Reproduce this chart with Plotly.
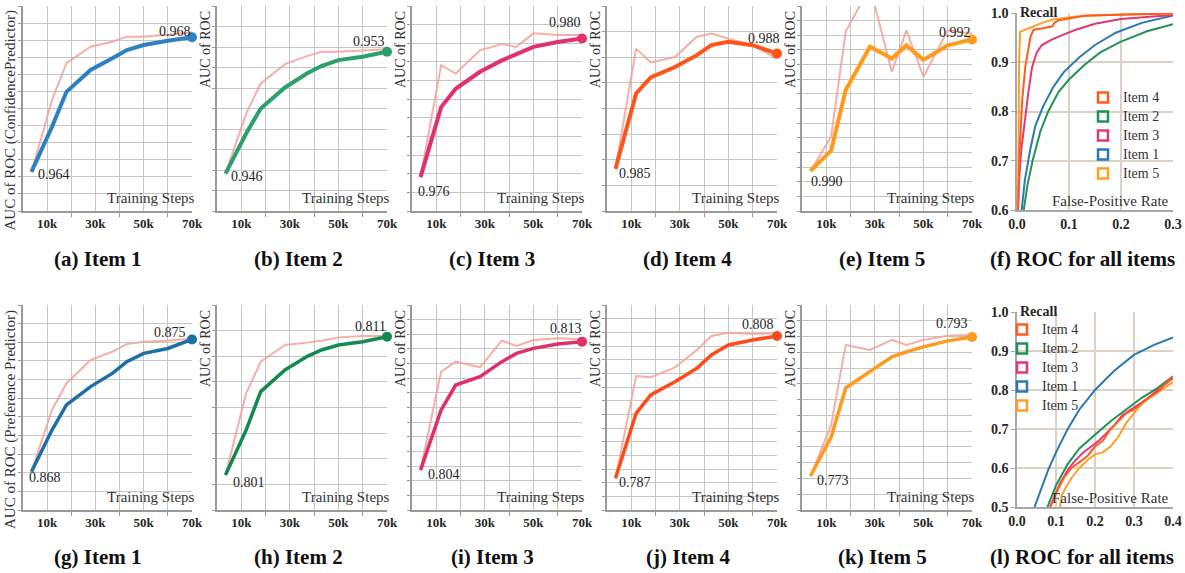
import plotly.graph_objects as go

W, H = 1185, 573
SERIF = "Liberation Serif"

# ---------------- data ----------------
STEPS = [3500, 12000, 18000, 28000, 37000, 43000, 50000, 60000, 70000]
STEP_TICKS = [10000, 30000, 50000, 70000]
STEP_TICK_LABELS = ["10k", "30k", "50k", "70k"]
STEP_MINOR_TICKS = [0, 20000, 40000, 60000]

# Confidence predictor AUC (top row)
conf_item1 = [0.9640, 0.96534, 0.96638, 0.96703, 0.96738, 0.96762, 0.96777, 0.96790, 0.9680]
conf_item1_ref = [0.9640, 0.96613, 0.96723, 0.96772, 0.96787, 0.96802, 0.96802, 0.96807, 0.96814]
conf_item2 = [0.9460, 0.94830, 0.94974, 0.95095, 0.95175, 0.95218, 0.95252, 0.95271, 0.9530]
conf_item2_ref = [0.9460, 0.94945, 0.95118, 0.95229, 0.95275, 0.9530, 0.9530, 0.95306, 0.95314]
conf_item3 = [0.9760, 0.97802, 0.97855, 0.97904, 0.97937, 0.97955, 0.97976, 0.97990, 0.9800]
conf_item3_ref = [0.9760, 0.97923, 0.97899, 0.97966, 0.97984, 0.97976, 0.98015, 0.98010, 0.98010]
conf_item4 = [0.9850, 0.98696, 0.98738, 0.98765, 0.98796, 0.98822, 0.98831, 0.98822, 0.9880]
conf_item4_ref = [0.9850, 0.98813, 0.98777, 0.98791, 0.98844, 0.98852, 0.98839, 0.98822, 0.98787]
conf_item5 = [0.9900, 0.99031, 0.99123, 0.99189, 0.99171, 0.99191, 0.99169, 0.99191, 0.9920]
conf_item5_ref = [0.9900, 0.99052, 0.99212, 0.99280, 0.99151, 0.99214, 0.99143, 0.99214, 0.99209]

# Preference predictor AUC (bottom row)
pref_item1 = [0.8680, 0.87020, 0.87153, 0.87250, 0.87320, 0.87382, 0.87426, 0.87452, 0.8750]
pref_item1_ref = [0.8680, 0.87126, 0.87267, 0.87391, 0.87435, 0.87475, 0.87488, 0.87493, 0.87505]
pref_item2 = [0.8010, 0.80425, 0.80703, 0.80859, 0.80956, 0.81004, 0.81040, 0.81064, 0.8110]
pref_item2_ref = [0.8010, 0.80690, 0.80919, 0.81040, 0.81057, 0.81071, 0.81095, 0.81105, 0.81105]
pref_item3 = [0.8040, 0.80821, 0.80996, 0.81055, 0.81160, 0.81218, 0.81253, 0.81284, 0.8130]
pref_item3_ref = [0.8040, 0.81090, 0.81160, 0.81120, 0.81307, 0.81270, 0.81312, 0.81324, 0.81317]
pref_item4 = [0.7870, 0.79659, 0.79930, 0.80126, 0.80323, 0.80520, 0.80667, 0.80741, 0.8080]
pref_item4_ref = [0.7870, 0.80210, 0.80190, 0.80338, 0.80593, 0.8080, 0.80849, 0.80830, 0.80839]
pref_item5 = [0.7730, 0.77861, 0.78567, 0.78797, 0.79014, 0.79086, 0.79158, 0.79244, 0.7930]
pref_item5_ref = [0.7730, 0.78034, 0.79186, 0.79114, 0.79258, 0.79186, 0.79258, 0.79316, 0.7933]

# ROC curves, confidence predictor (f)
roc_conf_item1_fpr = [0.009, 0.015, 0.025, 0.035, 0.05, 0.07, 0.09, 0.12, 0.15, 0.19, 0.24, 0.3]
roc_conf_item1_tpr = [0.60, 0.66, 0.72, 0.77, 0.81, 0.85, 0.88, 0.91, 0.935, 0.96, 0.98, 0.995]
roc_conf_item2_fpr = [0.013, 0.02, 0.03, 0.045, 0.06, 0.08, 0.1, 0.13, 0.16, 0.2, 0.25, 0.3]
roc_conf_item2_tpr = [0.60, 0.65, 0.70, 0.76, 0.80, 0.84, 0.865, 0.895, 0.92, 0.942, 0.963, 0.977]
roc_conf_item3_fpr = [0.002, 0.004, 0.008, 0.016, 0.022, 0.029, 0.038, 0.048, 0.065, 0.08, 0.113, 0.15, 0.2, 0.3]
roc_conf_item3_tpr = [0.60, 0.66, 0.72, 0.79, 0.84, 0.89, 0.92, 0.935, 0.945, 0.952, 0.966, 0.978, 0.988, 0.996]
roc_conf_item4_fpr = [0.002, 0.005, 0.01, 0.016, 0.026, 0.032, 0.05, 0.068, 0.072, 0.08, 0.132, 0.2, 0.3]
roc_conf_item4_tpr = [0.60, 0.72, 0.823, 0.891, 0.952, 0.966, 0.969, 0.973, 0.98, 0.985, 0.995, 0.997, 0.999]
roc_conf_item5_fpr = [0.002, 0.003, 0.004, 0.006, 0.02, 0.03, 0.048, 0.07, 0.113, 0.2, 0.3]
roc_conf_item5_tpr = [0.60, 0.80, 0.90, 0.962, 0.967, 0.972, 0.98, 0.987, 0.993, 0.997, 0.999]

# ROC curves, preference predictor (l)
roc_pref_item1_fpr = [0.045, 0.06, 0.08, 0.1, 0.13, 0.16, 0.2, 0.25, 0.3, 0.35, 0.4]
roc_pref_item1_tpr = [0.50, 0.54, 0.595, 0.64, 0.70, 0.75, 0.80, 0.85, 0.89, 0.915, 0.935]
roc_pref_item2_fpr = [0.078, 0.1, 0.13, 0.16, 0.2, 0.24, 0.28, 0.32, 0.36, 0.4]
roc_pref_item2_tpr = [0.50, 0.555, 0.61, 0.65, 0.685, 0.72, 0.75, 0.78, 0.805, 0.835]
roc_pref_item3_fpr = [0.085, 0.11, 0.13, 0.15, 0.17, 0.19, 0.21, 0.23, 0.25, 0.27, 0.3, 0.33, 0.36, 0.4]
roc_pref_item3_tpr = [0.50, 0.56, 0.595, 0.62, 0.64, 0.655, 0.67, 0.69, 0.71, 0.735, 0.755, 0.775, 0.80, 0.83]
roc_pref_item4_fpr = [0.085, 0.1, 0.12, 0.14, 0.16, 0.18, 0.2, 0.22, 0.24, 0.26, 0.28, 0.3, 0.33, 0.36, 0.4]
roc_pref_item4_tpr = [0.50, 0.535, 0.575, 0.60, 0.615, 0.63, 0.655, 0.67, 0.70, 0.72, 0.74, 0.75, 0.775, 0.795, 0.835]
roc_pref_item5_fpr = [0.11, 0.115, 0.125, 0.14, 0.16, 0.18, 0.2, 0.22, 0.24, 0.26, 0.28, 0.3, 0.32, 0.34, 0.37, 0.4]
roc_pref_item5_tpr = [0.50, 0.53, 0.55, 0.575, 0.60, 0.62, 0.635, 0.64, 0.655, 0.68, 0.715, 0.74, 0.765, 0.78, 0.80, 0.82]

FPR_TICKS_CONF = [0.0, 0.1, 0.2, 0.3]
TPR_TICKS_CONF = [0.6, 0.7, 0.8, 0.9, 1.0]
FPR_TICKS_PREF = [0.0, 0.1, 0.2, 0.3, 0.4]
TPR_TICKS_PREF = [0.5, 0.6, 0.7, 0.8, 0.9, 1.0]

CAPTIONS_TOP = ["(a) Item 1", "(b) Item 2", "(c) Item 3", "(d) Item 4", "(e) Item 5", "(f) ROC for all items"]
CAPTIONS_BOTTOM = ["(g) Item 1", "(h) Item 2", "(i) Item 3", "(j) Item 4", "(k) Item 5", "(l) ROC for all items"]
LEGEND_ORDER = ["Item 4", "Item 2", "Item 3", "Item 1", "Item 5"]

# ---------------- style / layout constants ----------------
REF_COLOR = "rgba(246,160,150,0.85)"
GRID = "#c6c6c6"
AXIS = "#9a9a9a"
ROC_GRID = "#dcd2c4"
TXT = "#262626"
ROC_COLORS = {"Item 1": "#2b78b4", "Item 2": "#1f9358", "Item 3": "#de3a78",
              "Item 4": "#ff5a1f", "Item 5": "#ff9f24"}

AUC_XPX = [(23, 192), (217, 387), (412, 582), (607, 777), (802, 972)]
ROW_YPX = [(6, 211), (305, 510)]
ROC_XPX = (1017, 1173)
ROC_YPX = [(13, 210), (312, 507)]
CAPTION_CX = [97, 298, 492, 688, 882, 1082]
CAPTION_Y = [259, 557]

panels = [
    [  # top row
        dict(main=conf_item1, ref=conf_item1_ref, color="#2e80c0", yr=(0.96284, 0.96893), n=12, s=(5, -3), e=(1, 6)),
        dict(main=conf_item2, ref=conf_item2_ref, color="#2aa06a", yr=(0.94385, 0.95563), n=10, s=(3, -3), e=(0, 10)),
        dict(main=conf_item3, ref=conf_item3_ref, color="#e2306c", yr=(0.97502, 0.98094), n=11, s=(-5, -14), e=(1, 16)),
        dict(main=conf_item4, ref=conf_item4_ref, color="#ff5419", yr=(0.98390, 0.98924), n=8, s=(1, -5), e=(5, 15)),
        dict(main=conf_item5, ref=conf_item5_ref, color="#ff9a1a", yr=(0.98939, 0.99251), n=14, s=(-2, -11), e=(1, 7)),
    ],
    [  # bottom row
        dict(main=pref_item1, ref=pref_item1_ref, color="#1e6fa6", yr=(0.86597, 0.87682), n=11, s=(-4, -6), e=(-4, 7)),
        dict(main=pref_item2, ref=pref_item2_ref, color="#138a50", yr=(0.79847, 0.81329), n=8, s=(5, -7), e=(1, 10)),
        dict(main=pref_item3, ref=pref_item3_ref, color="#e0306a", yr=(0.80120, 0.81557), n=14, s=(5, -4), e=(2, 13)),
        dict(main=pref_item4, ref=pref_item4_ref, color="#ff4a1a", yr=(0.78233, 0.81257), n=15, s=(1, -4), e=(-1, 11)),
        dict(main=pref_item5, ref=pref_item5_ref, color="#ff9a1f", yr=(0.76811, 0.79760), n=13, s=(4, -4), e=(-2, 13)),
    ],
]

roc_sets = [
    dict(order=["Item 2", "Item 1", "Item 3", "Item 5", "Item 4"],
         data={"Item 1": (roc_conf_item1_fpr, roc_conf_item1_tpr),
               "Item 2": (roc_conf_item2_fpr, roc_conf_item2_tpr),
               "Item 3": (roc_conf_item3_fpr, roc_conf_item3_tpr),
               "Item 4": (roc_conf_item4_fpr, roc_conf_item4_tpr),
               "Item 5": (roc_conf_item5_fpr, roc_conf_item5_tpr)},
         xt=FPR_TICKS_CONF, yt=TPR_TICKS_CONF,
         legend=dict(x=1083, y=83)),
    dict(order=["Item 1", "Item 5", "Item 2", "Item 3", "Item 4"],
         data={"Item 1": (roc_pref_item1_fpr, roc_pref_item1_tpr),
               "Item 2": (roc_pref_item2_fpr, roc_pref_item2_tpr),
               "Item 3": (roc_pref_item3_fpr, roc_pref_item3_tpr),
               "Item 4": (roc_pref_item4_fpr, roc_pref_item4_tpr),
               "Item 5": (roc_pref_item5_fpr, roc_pref_item5_tpr)},
         xt=FPR_TICKS_PREF, yt=TPR_TICKS_PREF,
         legend=dict(x=1002, y=315)),
]


def xd(a, b):
    return [a / W, b / W]


def yd(top, bottom):
    return [1 - bottom / H, 1 - top / H]


def px(v):
    return v / W


def py(v):
    return 1 - v / H


fig = go.Figure()
lay = {}
ann = []

tickfont_bold = dict(family=SERIF, size=13, color=TXT, weight="bold")

for r in range(2):
    ytop, ybot = ROW_YPX[r]
    for c in range(5):
        k = r * 6 + c + 1
        xa = "x" if k == 1 else f"x{k}"
        ya = "y" if k == 1 else f"y{k}"
        p = panels[r][c]
        x0, x1 = AUC_XPX[c]
        fig.add_trace(go.Scatter(x=STEPS, y=p["ref"], mode="lines", xaxis=xa, yaxis=ya,
                                 line=dict(color=REF_COLOR, width=2), showlegend=False, hoverinfo="skip"))
        fig.add_trace(go.Scatter(x=STEPS, y=p["main"], mode="lines", xaxis=xa, yaxis=ya,
                                 line=dict(color=p["color"], width=4 if r == 0 else 3.5),
                                 showlegend=False, hoverinfo="skip"))
        fig.add_trace(go.Scatter(x=STEPS[-1:], y=p["main"][-1:], mode="markers", xaxis=xa, yaxis=ya,
                                 marker=dict(color=p["color"], size=10), cliponaxis=False,
                                 showlegend=False, hoverinfo="skip"))
        yr0, yr1 = p["yr"]
        lay["xaxis" if k == 1 else f"xaxis{k}"] = dict(
            domain=xd(x0, x1), anchor=ya, range=[0, 70000],
            tickmode="array", tickvals=STEP_TICKS, ticktext=STEP_TICK_LABELS,
            ticks="inside", ticklen=4, tickcolor=GRID, tickfont=tickfont_bold,
            showgrid=True, gridcolor=GRID, gridwidth=1,
            minor=dict(tickmode="array", tickvals=STEP_MINOR_TICKS, showgrid=True, gridcolor=GRID,
                       gridwidth=1, ticks="outside", ticklen=4, tickcolor=AXIS),
            showline=True, linecolor=AXIS, linewidth=1.5, zeroline=False, fixedrange=True,
            automargin=False)
        lay["yaxis" if k == 1 else f"yaxis{k}"] = dict(
            domain=yd(ytop, ybot), anchor=xa, range=[yr0, yr1],
            tickmode="linear", tick0=yr0, dtick=(yr1 - yr0) / p["n"],
            showticklabels=False, ticks="outside", ticklen=3, tickcolor=AXIS,
            showgrid=True, gridcolor=GRID, gridwidth=1,
            showline=True, linecolor=AXIS, linewidth=1.5, zeroline=False, fixedrange=True,
            automargin=False)
        lab_font = dict(family=SERIF, size=14, color=TXT)
        ann.append(dict(x=STEPS[0], y=p["main"][0], xref=xa, yref=ya, text=f"{p['main'][0]:.3f}",
                        showarrow=False, xanchor="left", yanchor="middle",
                        xshift=p["s"][0], yshift=p["s"][1], font=lab_font))
        ann.append(dict(x=STEPS[-1], y=p["main"][-1], xref=xa, yref=ya, text=f"{p['main'][-1]:.3f}",
                        showarrow=False, xanchor="right", yanchor="middle",
                        xshift=p["e"][0], yshift=p["e"][1], font=lab_font))
        ann.append(dict(x=px(x1 + 5), y=py(ybot - 13), xref="paper", yref="paper", text="Training Steps",
                        showarrow=False, xanchor="right", yanchor="middle",
                        font=dict(family=SERIF, size=15, color="#333")))
        if c == 0:
            ytitle = "AUC of ROC (ConfidencePredictor)" if r == 0 else "AUC of ROC (Preference Predictor)"
            tsize = 15
        else:
            ytitle = "AUC of ROC"
            tsize = 14
        ann.append(dict(x=px(x0 - 2), y=py(ytop + 3), xref="paper", yref="paper", text=ytitle,
                        textangle=-90, showarrow=False, xanchor="right", yanchor="top",
                        font=dict(family=SERIF, size=tsize, color="#333")))

# ROC panels
for r in range(2):
    k = r * 6 + 6
    xa, ya = f"x{k}", f"y{k}"
    rs = roc_sets[r]
    ytop, ybot = ROC_YPX[r]
    for item in rs["order"]:
        fx, ty = rs["data"][item]
        fig.add_trace(go.Scatter(x=fx, y=ty, mode="lines", xaxis=xa, yaxis=ya,
                                 line=dict(color=ROC_COLORS[item], width=2),
                                 showlegend=False, hoverinfo="skip"))
    lg = "legend" if r == 0 else "legend2"
    for item in LEGEND_ORDER:
        fig.add_trace(go.Scatter(x=[None], y=[None], mode="markers", xaxis=xa, yaxis=ya,
                                 name=f"<span style='font-size:14px'>{item}</span>",
                                 marker=dict(symbol="square-open", size=10, color=ROC_COLORS[item],
                                             line=dict(width=2.5, color=ROC_COLORS[item])),
                                 legend=lg, showlegend=True))
    lay[lg] = dict(x=px(rs["legend"]["x"]), y=py(rs["legend"]["y"]), xanchor="left", yanchor="top",
                   bgcolor="rgba(0,0,0,0)", font=dict(family=SERIF, size=12, color="#333"),
                   itemwidth=30, tracegroupgap=0, traceorder="normal", borderwidth=0)
    xt, yt = rs["xt"], rs["yt"]
    lay[f"xaxis{k}"] = dict(
        domain=xd(*ROC_XPX), anchor=ya, range=[xt[0], xt[-1]],
        tickmode="array", tickvals=xt, ticktext=[f"{v:.1f}" for v in xt],
        ticks="inside", ticklen=4, tickcolor=ROC_GRID, tickfont=dict(family=SERIF, size=14, color=TXT, weight="bold"),
        showgrid=True, gridcolor=ROC_GRID, gridwidth=1.5,
        showline=True, linecolor="#a8a8a8", linewidth=1.5, zeroline=False, fixedrange=True,
        automargin=False)
    lay[f"yaxis{k}"] = dict(
        domain=yd(ytop, ybot), anchor=xa, range=[yt[0], yt[-1]],
        tickmode="array", tickvals=yt, ticktext=[f"{v:.1f}" for v in yt],
        ticks="outside", ticklen=4, tickcolor="#aaa", tickfont=dict(family=SERIF, size=14, color=TXT, weight="bold"),
        showgrid=True, gridcolor=ROC_GRID, gridwidth=1.5,
        showline=True, linecolor="#a8a8a8", linewidth=1.5, zeroline=False, fixedrange=True,
        automargin=False)
    ann.append(dict(x=px(ROC_XPX[0] + 1), y=py(ytop - 1), xref="paper", yref="paper", text="Recall",
                    showarrow=False, xanchor="left", yanchor="middle",
                    font=dict(family=SERIF, size=14, color=TXT, weight="bold")))
    ann.append(dict(x=px(ROC_XPX[1] - 2), y=py(ybot - 9), xref="paper", yref="paper", text="False-Positive Rate",
                    showarrow=False, xanchor="right", yanchor="middle",
                    font=dict(family=SERIF, size=15, color="#333")))

# captions
for r, caps in enumerate([CAPTIONS_TOP, CAPTIONS_BOTTOM]):
    for c, cap in enumerate(caps):
        ann.append(dict(x=px(CAPTION_CX[c]), y=py(CAPTION_Y[r]), xref="paper", yref="paper",
                        text=f"<b>{cap}</b>", showarrow=False, xanchor="center", yanchor="middle",
                        font=dict(family=SERIF, size=21, color="#111")))

fig.update_layout(width=W, height=H, margin=dict(l=0, r=0, t=0, b=0, pad=0, autoexpand=False),
                  paper_bgcolor="white", plot_bgcolor="white", hovermode=False,
                  annotations=ann, showlegend=True, **lay)

fig.write_html("out.html", config={"displayModeBar": False},
               post_script="document.body.style.margin='0px';document.body.style.overflow='hidden';")
